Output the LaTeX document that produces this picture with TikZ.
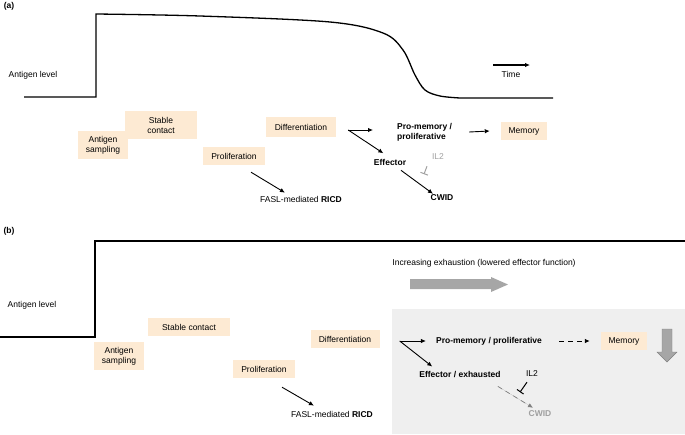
\documentclass[tikz,border=0pt]{standalone}
\usepackage{fontspec}
\setmainfont{Liberation Sans}
\usetikzlibrary{arrows.meta}

\definecolor{peach}{RGB}{253,234,211}
\definecolor{panelgray}{RGB}{239,239,239}
\definecolor{arrowgray}{RGB}{166,166,166}
\definecolor{textgray}{RGB}{160,160,160}

\tikzset{
  stage/.style={fill=peach, inner sep=0pt, align=center, font=\fontsize{8.5}{10}\selectfont},
  lbl/.style={inner sep=1pt, font=\fontsize{8.5}{10}\selectfont},
  bold/.style={inner sep=1pt, font=\fontsize{8.5}{10}\selectfont\bfseries},
  arr/.style={-{Latex[length=5pt,width=4.5pt]}, line width=0.9pt},
  inhib/.style={-{Bar[width=8pt]}, line width=1pt},
  level/.style={line width=1.3pt},
}

\begin{document}
\begin{tikzpicture}[x=1pt,y=-1pt]
  \useasboundingbox (0,0) rectangle (685,434);

  % Panel (a)
  \node[bold] (tagA) at (9,6) {(a)};
  \node[lbl] (levelA) at (33,75) {Antigen level};

  % Antigen level, rising then falling
  \draw[level] (24,97) -- (96,97) -- (96,14)
    -- plot[smooth,tension=0.55] coordinates {(96,14) (200,16) (330,22) (383,33) (403,50) (415,75) (425,90) (440,96) (460,98)}
    -- (553,98);

  % Time arrow
  \coordinate (timeS) at (493,65);
  \coordinate (timeE) at (530,65);
  \draw[arr, line width=1.2pt] (timeS) -- (timeE);
  \node[lbl] (time) at (511,74) {Time};

  % Stages
  \node[stage, minimum width=72, minimum height=28] (stabA) at (161,125) {Stable\\contact};
  \node[stage, minimum width=50, minimum height=28] (sampA) at (103,145) {Antigen\\sampling};
  \node[stage, minimum width=62, minimum height=18] (prolA) at (234,156) {Proliferation};
  \node[stage, minimum width=70, minimum height=20] (diffA) at (301,127) {Differentiation};
  \node[bold, align=left, anchor=west] (promA) at (396,132) {Pro-memory /\\proliferative};
  \node[stage, minimum width=46, minimum height=18] (memA) at (524,131) {Memory};
  \node[bold] (effA) at (390,162) {Effector};
  \node[lbl, text=textgray] (il2A) at (438,157) {IL2};
  \node[bold] (cwidA) at (442,198) {CWID};
  \node[lbl] (ricdA) at (301,199) {FASL-mediated \textbf{RICD}};

  % Fate arrows
  \coordinate (splitA) at ([xshift=12pt,yshift=-3pt]diffA.east);
  \draw[arr, shorten >=23pt] (splitA) -- (splitA -| promA.west);
  \draw[arr, shorten >=8pt] (splitA) -- (effA.north);
  \draw[arr] ([xshift=16pt]promA.east) -- ([xshift=-11pt]memA.west);
  \draw[arr] ([xshift=17pt,yshift=-7pt]prolA.south) -- ([xshift=26pt,yshift=2pt]ricdA.north west);
  \draw[arr] ([xshift=11pt,yshift=-4pt]effA.south) -- ([xshift=-9pt]cwidA.north);
  \draw[inhib, draw=textgray] ([xshift=-11pt,yshift=-5pt]il2A.south) -- ([xshift=-14pt,yshift=-13pt]il2A.south);

  % Panel (b)
  \node[bold] (tagB) at (9,231) {(b)};
  \node[lbl] (levelB) at (32,305) {Antigen level};
  \draw[level] (0,337) -- (95,337) -- (95,241) -- (685,241);

  % Exhaustion
  \node[lbl] (exh) at (484,263) {Increasing exhaustion (lowered effector function)};
  \fill[arrowgray] (410,279) -- (491,279) -- (491,277) -- (508,284.5) -- (491,292) -- (491,289) -- (410,289) -- cycle;

  % Shaded area
  \fill[panelgray] (392,309) rectangle (685,434);
  \filldraw[fill=arrowgray, draw=gray] (662,329) -- (672,329) -- (672,352) -- (677,352) -- (667,362) -- (657,352) -- (662,352) -- cycle;

  % Stages
  \node[stage, minimum width=50, minimum height=28] (sampB) at (119,356) {Antigen\\sampling};
  \node[stage, minimum width=82, minimum height=18] (stabB) at (189,327) {Stable contact};
  \node[stage, minimum width=62, minimum height=18] (prolB) at (264,369) {Proliferation};
  \node[stage, minimum width=69, minimum height=18] (diffB) at (345,339) {Differentiation};
  \node[bold] (promB) at (489,341) {Pro-memory / proliferative};
  \node[stage, minimum width=46, minimum height=18] (memB) at (624,341) {Memory};
  \node[bold] (effB) at (460,374) {Effector / exhausted};
  \node[lbl] (il2B) at (532,374) {IL2};
  \node[bold, text=textgray] (cwidB) at (540,414) {CWID};
  \node[lbl] (ricdB) at (332,414) {FASL-mediated \textbf{RICD}};

  % Fate arrows
  \coordinate (splitB) at ([xshift=20pt,yshift=-2pt]diffB.east);
  \draw[arr, shorten >=9pt] (splitB) -- (splitB -| promB.west);
  \draw[arr, shorten >=5pt] (splitB) -- ([xshift=18pt]effB.north west);
  \draw[arr, dashed, dash pattern=on 5pt off 4pt] ([xshift=16pt]promB.east) -- ([xshift=-11pt]memB.west);
  \draw[arr] ([xshift=18pt,yshift=-9pt]prolB.south) -- ([xshift=24pt,yshift=4pt]ricdB.north west);
  \draw[arr, dashed, dash pattern=on 5pt off 4pt, draw=gray, fill=gray, line width=0.7pt] ([xshift=-4pt,yshift=-8pt]effB.south east) -- ([xshift=-7pt,yshift=2pt]cwidB.north);
  \draw[inhib] ([xshift=-5pt,yshift=-4pt]il2B.south) -- ([xshift=-12pt,yshift=-14pt]il2B.south);
\end{tikzpicture}
\end{document}
